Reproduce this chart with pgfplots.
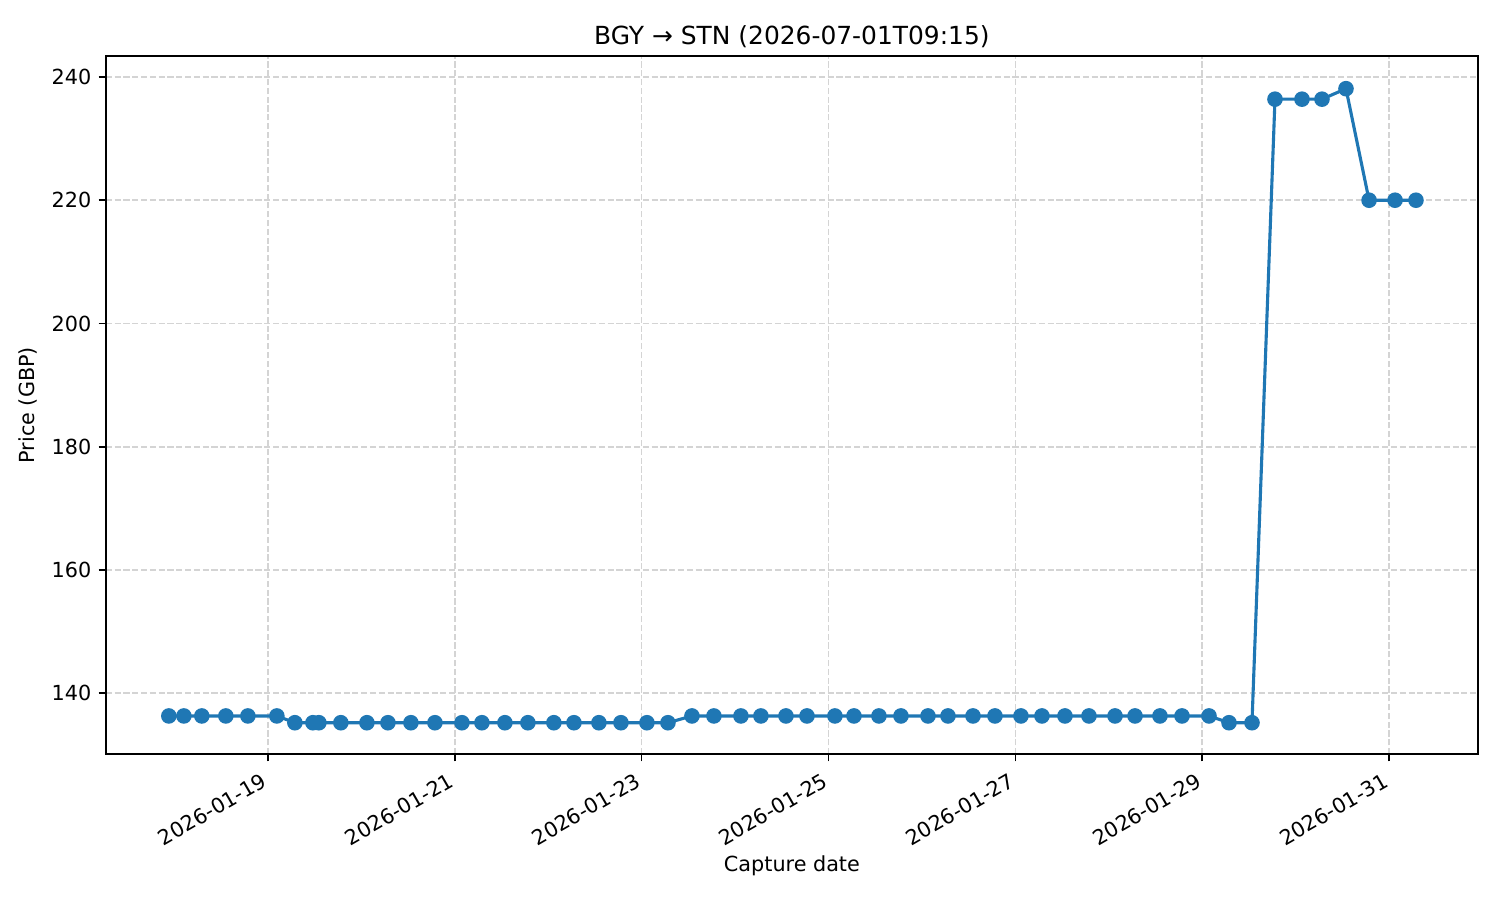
\documentclass[border=0pt]{standalone}
\usepackage{fontspec}
\setmainfont{DejaVu Sans}
\usepackage{pgfplots}
\pgfplotsset{compat=1.18}
\definecolor{mplblue}{HTML}{1F77B4}
\begin{document}
\fontsize{10}{12}\selectfont
\begin{tikzpicture}
\useasboundingbox (-51pt,-70.3pt) rectangle (671.6pt,363.3pt);
\begin{axis}[
  at={(0,0)}, anchor=south west,
  scale only axis, width=661pt, height=336.3pt,
  xmin=-1.734, xmax=12.952, ymin=130.1, ymax=243.4,
  xtick={0,2,4,6,8,10,12},
  xticklabels={2026-01-19,2026-01-21,2026-01-23,2026-01-25,2026-01-27,2026-01-29,2026-01-31},
  xticklabel style={xshift=-3.4pt, yshift=-5pt, rotate=30, anchor=north east, inner sep=0pt, font=\fontsize{10}{12}\selectfont},
  ytick={140,160,180,200,220,240},
  yticklabel style={font=\fontsize{10}{12}\selectfont},
  /pgf/number format/assume math mode=true,
  tick align=outside, tick pos=left, major tick length=3.5pt,
  every tick/.style={black, line width=0.8pt},
  axis line style={line width=0.8pt},
  grid=major,
  major grid style={draw=black!17, dash pattern=on 2.96pt off 1.28pt, line width=0.8pt},
  title={BGY → STN (2026-07-01T09:15)},
  title style={font=\fontsize{12}{14}\selectfont, at={(0.5,1)}, anchor=south, yshift=-5.5pt},
  xlabel={Capture date}, ylabel={Price (GBP)},
  label style={font=\fontsize{10}{12}\selectfont},
  xlabel style={yshift=-1pt},
]
\addplot[mplblue, line width=1.5pt, mark=*, mark size=3pt, mark options={fill=mplblue, draw=mplblue}] coordinates {
(-1.060,136.3) (-0.899,136.3) (-0.707,136.3) (-0.450,136.3) (-0.214,136.3) (0.096,136.3)
(0.289,135.2) (0.482,135.2) (0.546,135.2) (0.781,135.2) (1.060,135.2) (1.285,135.2)
(1.531,135.2) (1.788,135.2) (2.077,135.2) (2.291,135.2) (2.537,135.2) (2.783,135.2)
(3.061,135.2) (3.276,135.2) (3.543,135.2) (3.779,135.2) (4.057,135.2) (4.282,135.2)
(4.539,136.3) (4.774,136.3) (5.063,136.3) (5.277,136.3) (5.545,136.3) (5.770,136.3)
(6.069,136.3) (6.273,136.3) (6.540,136.3) (6.776,136.3) (7.065,136.3) (7.279,136.3)
(7.547,136.3) (7.782,136.3) (8.060,136.3) (8.285,136.3) (8.531,136.3) (8.788,136.3)
(9.067,136.3) (9.281,136.3) (9.548,136.3) (9.784,136.3) (10.073,136.3)
(10.287,135.2) (10.533,135.2)
(10.779,236.4) (11.068,236.4) (11.282,236.4) (11.539,238.1)
(11.786,220.0) (12.064,220.0) (12.288,220.0)
};
\end{axis}
\end{tikzpicture}
\end{document}
